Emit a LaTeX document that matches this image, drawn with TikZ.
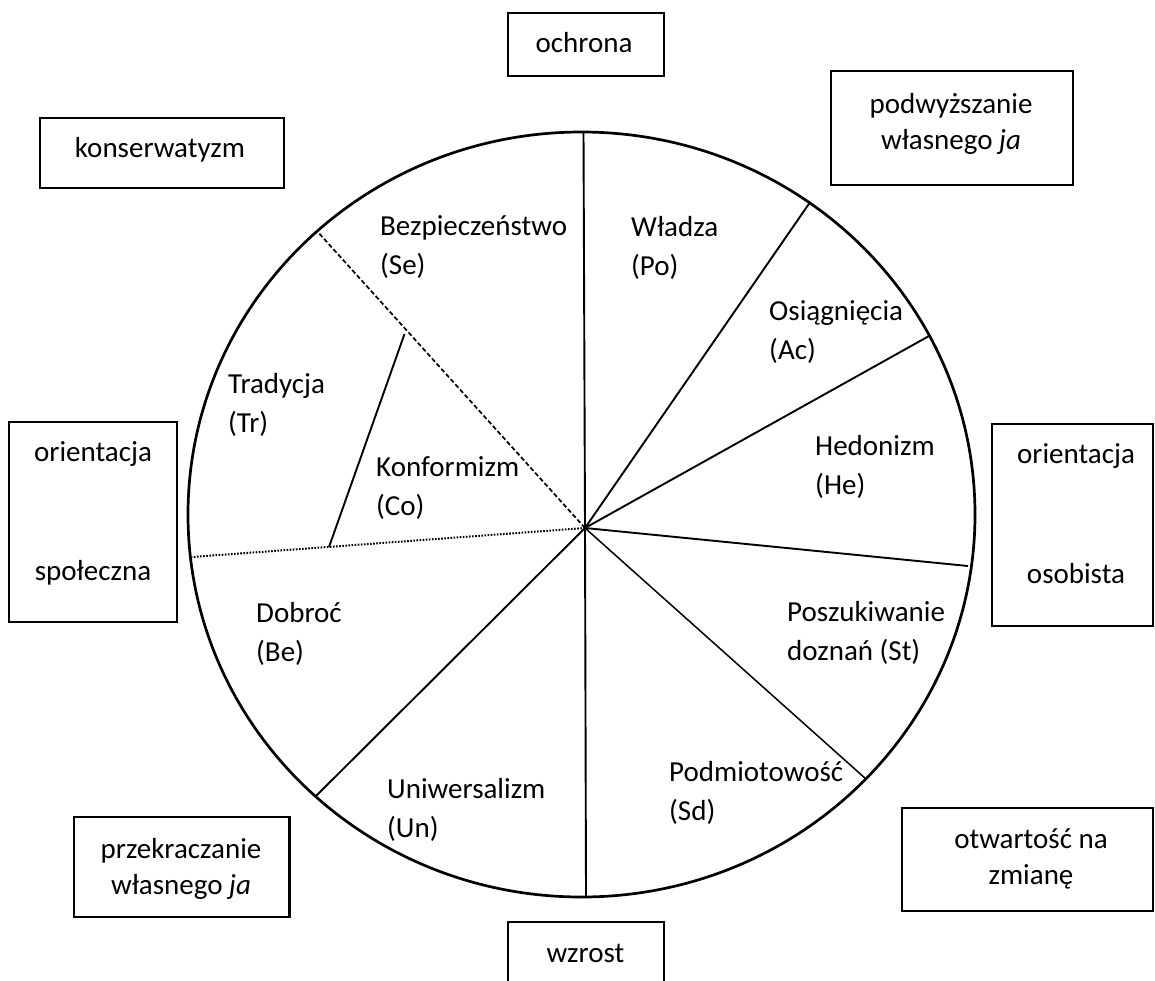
\documentclass[tikz,border=0pt]{standalone}
\usepackage{fontspec}
\setmainfont{Carlito}
\begin{document}
\begin{tikzpicture}[x=1pt,y=-1pt,
  rim/.style={line width=2.7pt},
  spoke/.style={line width=1.9pt},
  thinspoke/.style={line width=1.5pt},
  dashedspoke/.style={line width=1.7pt, dash pattern=on 4.5pt off 2.5pt},
  dottedspoke/.style={line width=2pt, dash pattern=on 1.6pt off 1.5pt},
  lbl/.style={anchor=base west, align=left, inner sep=0pt, font=\fontsize{29}{39}\selectfont},
  boxframe/.style={draw, line width=2.2pt, inner sep=0pt, rectangle},
  boxtxt/.style={anchor=base, align=center, inner sep=0pt, font=\fontsize{29}{36}\selectfont}]
\useasboundingbox (0,0) rectangle (1155,980);

% circle
\draw[rim] (581.5,514.5) ellipse [x radius=393.5pt, y radius=382.5pt];

% hub and rim points
\coordinate (hub) at (585,528);
\coordinate (rtop) at (583.5,132);
\coordinate (rpoac) at (809.5,203);
\coordinate (rache) at (929,336);
\coordinate (rhest) at (968,566);
\coordinate (rstsd) at (866,779);
\coordinate (rbot) at (586,897);
\coordinate (runbe) at (315,797);
\coordinate (rdot) at (192,557);
\coordinate (rdash) at (317,231);
\coordinate (trlow) at (329,547);
\coordinate (trup) at (404.5,334);

\draw[spoke] (hub) -- (rtop);
\draw[spoke] (hub) -- (rpoac);
\draw[spoke] (hub) -- (rache);
\draw[spoke] (hub) -- (rhest);
\draw[thinspoke] (hub) -- (rstsd);
\draw[spoke] (hub) -- (rbot);
\draw[spoke] (hub) -- (runbe);
\draw[dottedspoke] (hub) -- (rdot);
\draw[dashedspoke] (hub) -- (rdash);
\draw[spoke] (trlow) -- (trup);

% sector labels (anchor = baseline of the last line)
\node[lbl] (se) at (380,274) {Bezpieczeństwo\\(Se)};
\node[lbl] (po) at (631,275) {Władza\\(Po)};
\node[lbl] (ac) at (769,359) {Osiągnięcia\\(Ac)};
\node[lbl] (he) at (815,494) {Hedonizm\\(He)};
\node[lbl] (tr) at (228,432) {Tradycja\\(Tr)};
\node[lbl] (co) at (376,515) {Konformizm\\(Co)};
\node[lbl] (be) at (256,661) {Dobroć\\(Be)};
\node[lbl] (st) at (787,660) {Poszukiwanie\\doznań (St)};
\node[lbl] (un) at (387,837) {Uniwersalizm\\(Un)};
\node[lbl] (sd) at (669,820) {Podmiotowość\\(Sd)};

% outer boxes
\node[boxframe, minimum width=156pt, minimum height=63pt] (ochronabox) at (586,44.5) {};
\node[boxtxt] (ochrona) at (584,52) {ochrona};
\node[boxframe, minimum width=244pt, minimum height=70pt] (konsbox) at (162,153) {};
\node[boxtxt] (kons) at (160,157) {konserwatyzm};
\node[boxframe, minimum width=242pt, minimum height=114pt] (podwbox) at (952,128) {};
\node[boxtxt] (podw) at (951,149) {podwyższanie\\własnego \textit{ja}};
\node[boxframe, minimum width=168pt, minimum height=200pt] (socbox) at (93,522) {};
\node[boxtxt] (soc) at (93,580) {orientacja\\[83pt]społeczna};
\node[boxframe, minimum width=161pt, minimum height=202pt] (persbox) at (1072.5,525) {};
\node[boxtxt] (pers) at (1076,583) {orientacja\\[84pt]osobista};
\node[boxframe, minimum width=215.5pt, minimum height=100pt] (przebox) at (181.75,867) {};
\node[boxtxt] (prze) at (181,894) {przekraczanie\\własnego \textit{ja}};
\node[boxframe, minimum width=251pt, minimum height=103pt] (otwbox) at (1027.5,859.5) {};
\node[boxtxt] (otw) at (1031,884) {otwartość na\\zmianę};
\node[boxframe, minimum width=156pt, minimum height=63pt] (wzrostbox) at (586,953.5) {};
\node[boxtxt] (wzrost) at (585.5,962) {wzrost};
\end{tikzpicture}
\end{document}
